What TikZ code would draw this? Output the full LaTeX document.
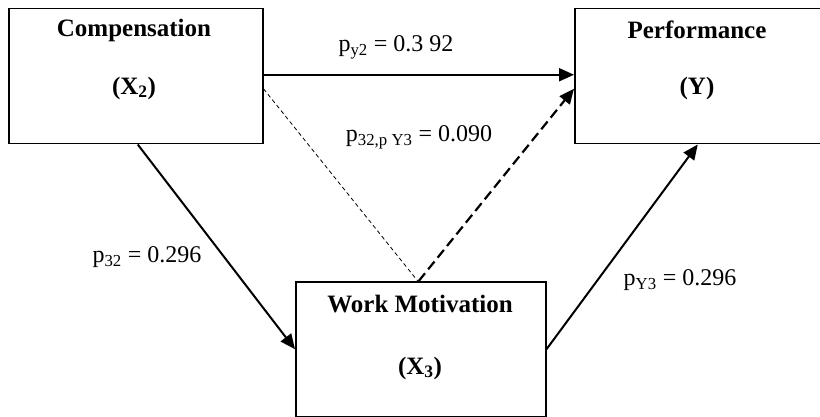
\documentclass[tikz,border=0pt]{standalone}
\usepackage{fontspec}
\setmainfont{Liberation Serif}
\usetikzlibrary{arrows.meta}
\begin{document}
\begin{tikzpicture}[x=1pt,y=-1pt,
  box/.style={draw,line width=1.5pt,inner sep=0pt,anchor=north west},
  title/.style={font=\fontsize{25}{28}\selectfont\bfseries,inner sep=0pt},
  lbl/.style={font=\fontsize{24}{27}\selectfont,inner sep=0pt},
  arr/.style={line width=2pt,-{Triangle[length=15pt,width=13pt]}},
  darr/.style={line width=2.2pt,dash pattern=on 10pt off 5pt,-{Triangle[length=15pt,width=13pt]}},
  thin/.style={line width=0.8pt,dash pattern=on 4pt off 3pt}]
\useasboundingbox (0,0) rectangle (820,417);
\node[box,minimum width=254pt,minimum height=135pt] (comp) at (8,8) {};
\node[box,minimum width=248pt,minimum height=135pt] (perf) at (574,8) {};
\node[box,minimum width=250pt,minimum height=135pt] (mot) at (295,281) {};
\node[title] (t1) at (134,30) {Compensation};
\node[title] (t1b) at (134,88) {(X\textsubscript{2})};
\node[title] (t2) at (697,30) {Performance};
\node[title] (t2b) at (697,88) {(Y)};
\node[title] (t3) at (420,304) {Work Motivation};
\node[title] (t3b) at (420,368) {(X\textsubscript{3})};
\node[lbl] (l1) at (396,47) {p\textsubscript{y2} = 0.3 92};
\node[lbl] (l2) at (419,137) {p\textsubscript{32,p Y3} = 0.090};
\node[lbl] (l3) at (147,257) {p\textsubscript{32} = 0.296};
\node[lbl] (l4) at (680,280) {p\textsubscript{Y3} = 0.296};
\draw[arr] ([yshift=1.5pt]comp.east) -- ([yshift=1.5pt]perf.west);
\draw[thin] ([yshift=-12.5pt]comp.east) -- ([xshift=-3pt]mot.north);
\draw[darr] ([xshift=-2pt]mot.north) -- ([yshift=-12.5pt]perf.west);
\draw[arr] ([xshift=2pt]comp.south) -- (mot.west);
\draw[arr] (mot.east) -- ([xshift=-1pt]perf.south);
\end{tikzpicture}
\end{document}
